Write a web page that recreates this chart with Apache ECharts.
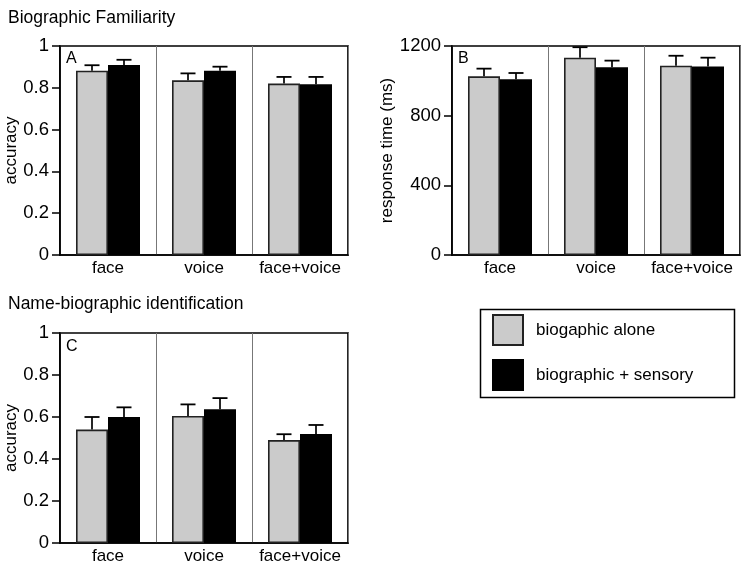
<!DOCTYPE html>
<html><head><meta charset="utf-8">
<script src="https://cdn.jsdelivr.net/npm/echarts@6/dist/echarts.min.js"></script>
<style>html,body{margin:0;padding:0;background:#fff}#c{width:747px;height:567px}</style>
</head><body><div id="c"></div>
<script>
const categories = ['face', 'voice', 'face+voice'];
const seriesNames = ['biogaphic alone', 'biographic + sensory'];
// Panel A: Biographic familiarity accuracy
const accA_alone = [0.882, 0.836, 0.820];
const errA_alone = [0.026, 0.033, 0.032];
const accA_sens = [0.909, 0.882, 0.817];
const errA_sens = [0.025, 0.019, 0.035];
// Panel B: response time (ms)
const rtB_alone = [1026, 1133, 1087];
const errB_alone = [44, 60, 57];
const rtB_sens = [1009, 1078, 1083];
const errB_sens = [36, 38, 50];
// Panel C: Name-biographic identification accuracy
const accC_alone = [0.540, 0.605, 0.490];
const errC_alone = [0.060, 0.055, 0.028];
const accC_sens = [0.600, 0.637, 0.519];
const errC_sens = [0.046, 0.053, 0.043];

const FONT = "'Liberation Sans', Arial, Helvetica, sans-serif";
const GREY = '#cbcbcb';

const grids = [
  {left: 60, top: 46, width: 288, height: 209},
  {left: 452, top: 46, width: 288, height: 209},
  {left: 60, top: 333, width: 288, height: 210}
];
const yConf = [
  {max: 1, interval: 0.2, name: 'accuracy'},
  {max: 1200, interval: 400, name: 'response time (ms)'},
  {max: 1, interval: 0.2, name: 'accuracy'}
];
const panels = [
  [accA_alone, errA_alone, accA_sens, errA_sens],
  [rtB_alone, errB_alone, rtB_sens, errB_sens],
  [accC_alone, errC_alone, accC_sens, errC_sens]
];

function errSeries(gi, vals, errs, side) {
  return {
    type: 'custom', name: 'err' + gi + side, xAxisIndex: gi, yAxisIndex: gi, z: 5,
    data: vals.map((v, i) => [i, v, v + errs[i]]),
    renderItem: function (params, api) {
      const bw = api.size([1, 0])[0];
      const off = side * bw / 6;
      const base = api.coord([api.value(0), api.value(1)]);
      const top = api.coord([api.value(0), api.value(2)]);
      const x = base[0] + off;
      return {
        type: 'group', children: [
          {type: 'line', shape: {x1: x, y1: base[1], x2: x, y2: top[1]}, style: {stroke: '#000', lineWidth: 1.7}},
          {type: 'line', shape: {x1: x - 7.5, y1: top[1], x2: x + 7.5, y2: top[1]}, style: {stroke: '#000', lineWidth: 1.8}}
        ]
      };
    }
  };
}

const series = [];
panels.forEach((p, gi) => {
  series.push({
    type: 'bar', name: seriesNames[0], xAxisIndex: gi, yAxisIndex: gi, data: p[0],
    barGap: '0%', barCategoryGap: '33.33%',
    itemStyle: {color: GREY, borderColor: '#222', borderWidth: 1.6}
  });
  series.push({
    type: 'bar', name: seriesNames[1], xAxisIndex: gi, yAxisIndex: gi, data: p[2],
    barGap: '0%', barCategoryGap: '33.33%',
    itemStyle: {color: '#000', borderColor: '#000', borderWidth: 1.6}
  });
  series.push(errSeries(gi, p[0], p[1], -1));
  series.push(errSeries(gi, p[2], p[3], 1));
});

const option = {
  animation: false,
  textStyle: {fontFamily: FONT},
  title: [
    {text: 'Biographic Familiarity', left: 3, top: 4, textStyle: {fontFamily: FONT, fontSize: 17.5, fontWeight: 'normal', color: '#000'}},
    {text: 'Name-biographic identification', left: 3, top: 290, textStyle: {fontFamily: FONT, fontSize: 17.5, fontWeight: 'normal', color: '#000'}}
  ],
  grid: grids.map(g => Object.assign({show: true, borderColor: '#000', borderWidth: 1.7, backgroundColor: 'transparent'}, g)),
  xAxis: grids.map((g, i) => ({
    type: 'category', gridIndex: i, data: categories,
    axisLine: {show: true, lineStyle: {color: '#000', width: 1.7}},
    axisTick: {show: false},
    axisLabel: {color: '#000', fontSize: 17, fontFamily: FONT, margin: 5, interval: 0},
    splitLine: {show: true, interval: 0, lineStyle: {color: '#777', width: 1}}
  })),
  yAxis: yConf.map((y, i) => ({
    type: 'value', gridIndex: i, min: 0, max: y.max, interval: y.interval,
    name: y.name, nameLocation: 'middle', nameGap: i === 1 ? 56 : 40,
    nameTextStyle: {color: '#000', fontSize: 17, fontFamily: FONT},
    axisLine: {show: true, lineStyle: {color: '#000', width: 1.7}},
    axisTick: {show: true, length: 8, lineStyle: {color: '#000', width: 1.5}},
    axisLabel: {color: '#000', fontSize: 18.5, fontFamily: FONT, margin: 11, formatter: v => String(v)},
    splitLine: {show: false}
  })),
  legend: {
    orient: 'vertical', left: 492, top: 314, padding: 0, itemWidth: 30, itemHeight: 30, itemGap: 13,
    icon: 'rect', data: seriesNames,
    textStyle: {fontSize: 17, fontFamily: FONT, color: '#000', padding: [0, 0, 0, 8]}
  },
  graphic: [
    {type: 'rect', left: 478, top: 307, shape: {width: 254, height: 88}, style: {fill: 'none', stroke: '#000', lineWidth: 1.5}},
    {type: 'text', left: 66, top: 51, style: {text: 'A', fontSize: 16, fontFamily: FONT, fill: '#000'}},
    {type: 'text', left: 458, top: 51, style: {text: 'B', fontSize: 16, fontFamily: FONT, fill: '#000'}},
    {type: 'text', left: 66, top: 339, style: {text: 'C', fontSize: 16, fontFamily: FONT, fill: '#000'}}
  ],
  series: series
};
const chart = echarts.init(document.getElementById('c'));
chart.setOption(option);
</script>
</body></html>
